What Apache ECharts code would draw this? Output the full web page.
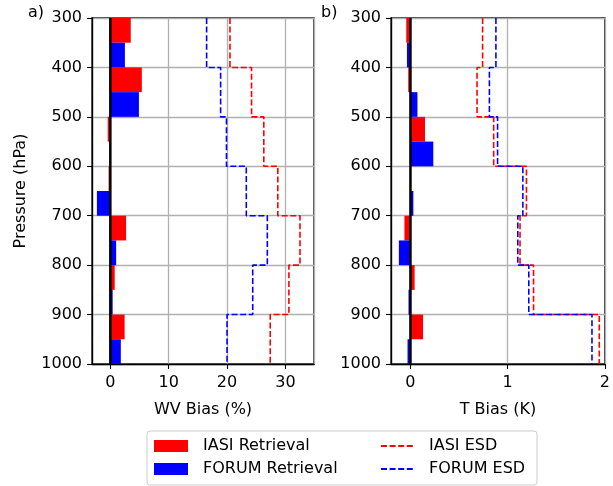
<!DOCTYPE html>
<html>
<head>
<meta charset="utf-8">
<script src="https://cdn.jsdelivr.net/npm/echarts@6/dist/echarts.min.js"></script>
<style>
  html, body { margin: 0; padding: 0; background: #fff; }
  #chart { width: 613px; height: 486px; }
</style>
</head>
<body>
<div id="chart"></div>
<script>
// pressure levels (top edge of each 100 hPa layer)
const levels = [300, 400, 500, 600, 700, 800, 900]
const yTicks = [300, 400, 500, 600, 700, 800, 900, 1000]

// a) water vapour bias (%)
const wvIasiBias = [3.5, 5.4, -0.45, -0.3, 2.7, 0.75, 2.45]
const wvForumBias = [2.5, 4.9, 0.05, -2.3, 1.0, 0.4, 1.8]
const wvIasiEsd = [20.5, 24.2, 26.3, 28.7, 32.5, 30.6, 27.4]
const wvForumEsd = [16.5, 18.9, 19.9, 23.3, 26.9, 24.4, 20.0]

// b) temperature bias (K)
const tIasiBias = [-0.043, -0.023, 0.15, 0.005, -0.062, 0.043, 0.13]
const tForumBias = [-0.036, 0.072, 0.235, 0.03, -0.119, -0.02, -0.03]
const tIasiEsd = [0.742, 0.685, 0.856, 1.193, 1.127, 1.266, 1.942]
const tForumEsd = [0.879, 0.812, 0.896, 1.156, 1.104, 1.217, 1.867]

const FONT = 'DejaVu Sans'
const RED = '#ff0000'
const BLUE = '#0000ff'
const GRID_GREY = '#b0b0b0'

// bar occupies half a layer: IASI upper half, FORUM lower half
function barData(values, offset) {
  return values.map((v, i) => [v, levels[i] + offset, levels[i] + offset + 50])
}

// step profile: constant over each layer
function stepData(values) {
  const pts = []
  values.forEach((v, i) => {
    pts.push([v, levels[i]])
    pts.push([v, levels[i] + 100])
  })
  return pts
}

function renderBar(params, api) {
  const p0 = api.coord([0, api.value(1)])
  const p1 = api.coord([api.value(0), api.value(2)])
  const x = Math.min(p0[0], p1[0])
  const w = Math.abs(p1[0] - p0[0])
  return {
    type: 'rect',
    shape: { x: x, y: p0[1], width: w, height: p1[1] - p0[1] },
    style: { fill: api.visual('color') }
  }
}

function barSeries(name, idx, values, offset, color) {
  return {
    name: name,
    type: 'custom',
    xAxisIndex: idx,
    yAxisIndex: idx,
    renderItem: renderBar,
    encode: { x: 0, y: [1, 2] },
    itemStyle: { color: color },
    data: barData(values, offset),
    z: 3
  }
}

function esdSeries(name, idx, values, color) {
  return {
    name: name,
    type: 'line',
    xAxisIndex: idx,
    yAxisIndex: idx,
    symbol: 'none',
    showSymbol: false,
    lineStyle: { color: color, width: 1.6, type: [6, 2.6] },
    itemStyle: { color: color },
    data: stepData(values),
    z: 4,
    silent: true
  }
}

function zeroLine(idx) {
  return {
    type: 'line',
    xAxisIndex: idx,
    yAxisIndex: idx,
    symbol: 'none',
    lineStyle: { color: '#000', width: 2.5 },
    data: [[0, yTicks[0]], [0, yTicks[yTicks.length - 1]]],
    z: 6,
    silent: true
  }
}

function xAxis(idx, name, min, max, step, showMax) {
  return {
    type: 'value',
    gridIndex: idx,
    min: min,
    max: max,
    splitNumber: Math.round((max - min) / step),
    minInterval: step,
    maxInterval: step,
    name: name,
    nameLocation: 'middle',
    nameGap: 38,
    nameTextStyle: { fontFamily: FONT, fontSize: 16, color: '#000' },
    axisLine: { show: true, onZero: false, lineStyle: { color: '#000', width: 1.3 } },
    axisTick: { show: true, inside: false, length: 5, lineStyle: { color: '#000', width: 1.1 } },
    axisLabel: {
      fontFamily: FONT, fontSize: 16, color: '#000', margin: 11,
      showMinLabel: false, showMaxLabel: showMax,
      formatter: v => (Math.abs(v / step - Math.round(v / step)) < 1e-6 ? String(Math.round(v)) : '')
    },
    splitLine: { show: true, lineStyle: { color: GRID_GREY, width: 1.3 } }
  }
}

function yAxis(idx, showName) {
  return {
    type: 'value',
    gridIndex: idx,
    inverse: true,
    min: 300,
    max: 1000,
    interval: 100,
    name: showName ? 'Pressure (hPa)' : '',
    nameLocation: 'middle',
    nameGap: 63,
    nameTextStyle: { fontFamily: FONT, fontSize: 16, color: '#000' },
    axisLine: { show: true, onZero: false, lineStyle: { color: '#000', width: 1.3 } },
    axisTick: { show: true, inside: false, length: 5, lineStyle: { color: '#000', width: 1.1 } },
    axisLabel: { fontFamily: FONT, fontSize: 16, color: '#000', margin: 10, formatter: v => String(v) },
    splitLine: { show: true, lineStyle: { color: GRID_GREY, width: 1.3 } }
  }
}

const chart = echarts.init(document.getElementById('chart'), null, { renderer: 'canvas' })

chart.setOption({
  backgroundColor: '#fff',
  animation: false,
  textStyle: { fontFamily: FONT },
  grid: [
    { left: 92, top: 18, width: 222, height: 346, show: true, borderColor: '#000', borderWidth: 1.3, backgroundColor: 'transparent' },
    { left: 391, top: 18, width: 221, height: 346, show: true, borderColor: '#000', borderWidth: 1.3, backgroundColor: 'transparent' }
  ],
  xAxis: [
    xAxis(0, 'WV Bias (%)', -3.14, 34.9, 10, false),
    xAxis(1, 'T Bias (K)', -0.2, 2, 1, true)
  ],
  yAxis: [yAxis(0, true), yAxis(1, false)],
  legend: [
    {
      orient: 'vertical',
      left: 154,
      top: 438,
      height: 48,
      padding: 0,
      itemWidth: 34,
      itemHeight: 12,
      itemGap: 7,
      textStyle: { fontFamily: FONT, fontSize: 16, color: '#000', padding: [0, 0, 0, 10] },
      data: [
        { name: 'IASI Retrieval', icon: 'rect' },
        { name: 'FORUM Retrieval', icon: 'rect' }
      ]
    },
    {
      orient: 'vertical',
      left: 380,
      top: 438,
      height: 48,
      padding: 0,
      itemWidth: 33,
      itemHeight: 12,
      itemGap: 7,
      itemStyle: { opacity: 0 },
      textStyle: { fontFamily: FONT, fontSize: 16, color: '#000', padding: [0, 0, 0, 10] },
      data: ['IASI ESD', 'FORUM ESD']
    }
  ],
  graphic: [
    {
      type: 'rect',
      shape: { x: 147, y: 431, width: 390, height: 54, r: 3 },
      style: { fill: '#fff', stroke: '#cccccc', lineWidth: 1 },
      z: -1
    },
    { type: 'text', left: 28, top: 5, style: { text: 'a)', fontFamily: FONT, fontSize: 16, fill: '#000' } },
    { type: 'text', left: 321, top: 5, style: { text: 'b)', fontFamily: FONT, fontSize: 16, fill: '#000' } }
  ],
  series: [
    barSeries('IASI Retrieval', 0, wvIasiBias, 0, RED),
    barSeries('FORUM Retrieval', 0, wvForumBias, 50, BLUE),
    esdSeries('IASI ESD', 0, wvIasiEsd, RED),
    esdSeries('FORUM ESD', 0, wvForumEsd, BLUE),
    zeroLine(0),
    barSeries('IASI Retrieval', 1, tIasiBias, 0, RED),
    barSeries('FORUM Retrieval', 1, tForumBias, 50, BLUE),
    esdSeries('IASI ESD', 1, tIasiEsd, RED),
    esdSeries('FORUM ESD', 1, tForumEsd, BLUE),
    zeroLine(1)
  ]
})
</script>
</body>
</html>
